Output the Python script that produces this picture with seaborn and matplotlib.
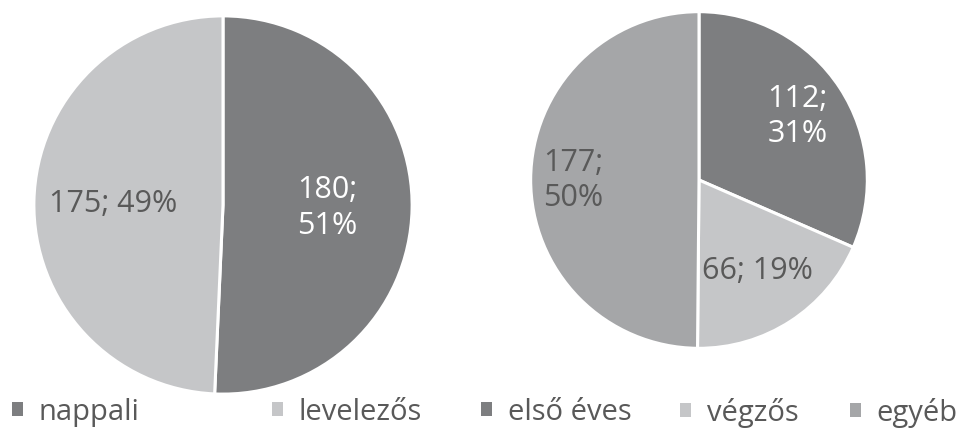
import numpy as np
import matplotlib
matplotlib.use("Agg")
import matplotlib.pyplot as plt
from matplotlib.patches import Patch
import seaborn as sns

# Student counts by study mode and by year (with the published percentages)
mode_labels = ["nappali", "levelezős"]
mode_values = [180, 175]
mode_pct = [51, 49]
year_labels = ["első éves", "végzős", "egyéb"]
year_values = [112, 66, 177]
year_pct = [31, 19, 50]

DARK, LIGHT, MID = "#7d7e80", "#c5c6c8", "#a5a6a8"
TEXT = "#595959"

sns.set_theme(style="white")
plt.rcParams["font.family"] = ["Open Sans", "DejaVu Sans"]

W, H = 957, 431
fig = plt.figure(figsize=(W / 100, H / 100), dpi=100)
fig.patch.set_facecolor("white")


def pie_axes(cx, cy, r):
    return fig.add_axes([(cx - r) / W, (H - cy - r) / H, 2 * r / W, 2 * r / H])


def draw_pie(ax, values, pcts, colors, text_colors, dists, two_line):
    wedges, _ = ax.pie(values, colors=colors, startangle=90, counterclock=False,
                       radius=1.0,
                       wedgeprops=dict(edgecolor="white", linewidth=2.2))
    for w, v, p, tc, d, tl in zip(wedges, values, pcts, text_colors, dists, two_line):
        txt = f"{v};\n{p}%" if tl else f"{v}; {p}%"
        ang = np.deg2rad((w.theta1 + w.theta2) / 2)
        ax.text(d * np.cos(ang), d * np.sin(ang), txt, ha="center", va="center",
                color=tc, fontsize=22, linespacing=1.25)
    ax.set_xlim(-1.01, 1.01)
    ax.set_ylim(-1.01, 1.01)
    ax.set_aspect("equal")
    ax.axis("off")
    return wedges


ax1 = pie_axes(223, 206, 191)
draw_pie(ax1, mode_values, mode_pct, [DARK, LIGHT], ["white", TEXT],
         [0.55, 0.58], [True, False])

ax2 = pie_axes(699, 181, 170)
draw_pie(ax2, year_values, year_pct, [DARK, LIGHT, MID], ["white", TEXT, TEXT],
         [0.70, 0.64, 0.75], [True, False, True])


def legend_entry(label, color, x):
    leg = fig.legend([Patch(facecolor=color, edgecolor="none")], [label],
                     loc="center left", bbox_to_anchor=(x / W, 1 - 413 / H),
                     frameon=False, fontsize=21, handlelength=0.36,
                     handleheight=0.36, handletextpad=0.55,
                     borderpad=0, borderaxespad=0)
    leg.get_texts()[0].set_color(TEXT)
    return leg


for lab, col, x in zip(mode_labels, [DARK, LIGHT], [12, 272]):
    legend_entry(lab, col, x)
for lab, col, x in zip(year_labels, [DARK, LIGHT, MID], [481, 680, 850]):
    legend_entry(lab, col, x)

fig.savefig("out.png", dpi=100, facecolor="white")
